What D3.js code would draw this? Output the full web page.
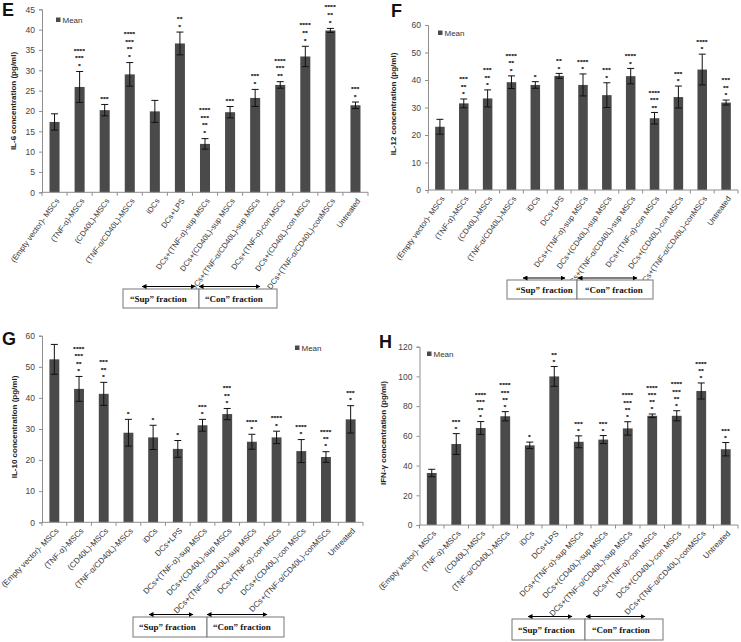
<!DOCTYPE html>
<html><head><meta charset="utf-8">
<script src="https://cdn.jsdelivr.net/npm/d3@7"></script>
<style>
body{margin:0;background:#fff;}
svg{display:block;font-family:"Liberation Sans",Arial,sans-serif;}
</style></head>
<body>
<script>
// ---------- DATA ----------
const categories = ["(Empty vector)- MSCs","(TNF-α)-MSCs","(CD40L)-MSCs","(TNF-α/CD40L)-MSCs","iDCs","DCs+LPS",
  "DCs+(TNF-α)-sup MSCs","DCs+(CD40L)-sup MSCs","DCs+(TNF-α/CD40L)-sup MSCs","DCs+(TNF-α)-con MSCs",
  "DCs+(CD40L)-con MSCs","DCs+(TNF-α/CD40L)-conMSCs","Untreated"];

const il6Mean = [17.3, 25.9, 20.2, 29.0, 19.9, 36.6, 11.9, 19.7, 23.2, 26.4, 33.4, 39.8, 21.4];
const il6Err  = [2.0, 3.8, 1.4, 2.9, 2.7, 2.8, 1.3, 1.4, 2.1, 0.8, 2.5, 0.5, 0.8];
const il6Stars = [[],["****","***","*"],["***"],["****","***","**","*"],[],["**","*"],["****","***","**","*"],
  ["***"],["***","*"],["****","***","**"],["****","**","*"],["****","**","*"],["***","*"]];

const il12Mean = [23.0, 31.5, 33.3, 39.2, 38.2, 41.5, 38.2, 34.5, 41.4, 26.1, 33.8, 43.8, 31.8];
const il12Err  = [2.7, 1.6, 3.1, 2.3, 1.2, 0.9, 4.0, 4.5, 2.8, 2.1, 4.0, 5.6, 0.9];
const il12Stars = [[],["***","**","*"],["***","**","*"],["****","**","*"],["*"],["**","*"],["****","*"],
  ["***","*"],["****","*"],["****","***","**"],["***","*"],["****","*"],["***","**","*"]];

const il10Mean = [52.4, 42.9, 41.3, 28.8, 27.3, 23.6, 31.2, 34.8, 25.9, 27.3, 22.9, 21.0, 33.1];
const il10Err  = [4.8, 4.0, 3.7, 4.3, 3.9, 2.7, 1.9, 1.8, 2.4, 2.0, 3.7, 1.7, 4.4];
const il10Stars = [[],["****","***","**","*"],["***","**","*"],["*"],["*"],["*"],["***","*"],["***","**","*"],
  ["****","*"],["****","*"],["****","*"],["****","**","*"],["***","*"]];

const ifnMean = [35.0, 54.5, 65.3, 73.2, 53.6, 100.0, 56.0, 57.5, 65.0, 73.5, 73.5, 90.2, 51.0];
const ifnErr  = [2.5, 7.0, 4.3, 3.1, 2.2, 6.7, 4.0, 2.7, 4.5, 1.2, 3.4, 5.4, 4.5];
const ifnStars = [[],["***","*"],["****","***","**","*"],["****","***","**","*"],["*"],["**","*"],["***","*"],
  ["***","*"],["****","***","**","*"],["****","***","**","*"],["****","***","**","*"],["****","**","*"],["***","*"]];

const il6Ticks  = [0,5,10,15,20,25,30,35,40,45];
const il12Ticks = [0,10,20,30,40,50,60];
const il10Ticks = [0,10,20,30,40,50,60];
const ifnTicks  = [0,20,40,60,80,100,120];

const legendLabel = "Mean";
const supLabel = "\u201CSup\u201D fraction";
const conLabel = "\u201CCon\u201D fraction";

// ---------- LAYOUT ----------
const W = 741, H = 642;
const svg = d3.select("body").append("svg").attr("width", W).attr("height", H);

const panels = [
  {letter:"E", lx:2, ly:16, title:"IL-6 concentration (pg/ml)", tx:16, ty:101,
   x0:42, x1:368, yTop:9.3, yBot:192.3, max:45, ticks:il6Ticks,
   mean:il6Mean, err:il6Err, stars:il6Stars, starOff:7, starGap:7.8,
   legX:56, legY:20, labAngle:-54, labFont:7.8,
   box:{x0:123,x1:277,y0:289,y1:308,div:199,ay:286.5,a1:[142,195],a2:[199,260],s:130,c:205,by:302}},
  {letter:"F", lx:391, ly:17, title:"IL-12 concentration (pg/ml)", tx:396, ty:104,
   x0:428, x1:738, yTop:25, yBot:190, max:60, ticks:il12Ticks,
   mean:il12Mean, err:il12Err, stars:il12Stars, starOff:6.5, starGap:7.5,
   legX:438, legY:33, labAngle:-54, labFont:7.8,
   box:{x0:507,x1:653,y0:280,y1:299,div:577,ay:278,a1:[523,565],a2:[578,637],s:516,c:585,by:293}},
  {letter:"G", lx:2, ly:345, title:"IL-10 concentration (pg/ml)", tx:17, ty:427,
   x0:42, x1:363, yTop:335.7, yBot:522.3, max:60, ticks:il10Ticks,
   mean:il10Mean, err:il10Err, stars:il10Stars, starOff:7, starGap:7.3,
   legX:295, legY:348, labAngle:-46, labFont:8,
   box:{x0:133,x1:284,y0:617,y1:637,div:207,ay:614.5,a1:[149,193],a2:[207,267],s:139,c:213,by:630}},
  {letter:"H", lx:379, ly:348, title:"IFN-\u03B3 concentration (pg/ml)", tx:386, ty:433,
   x0:419.5, x1:738, yTop:346.7, yBot:525, max:120, ticks:ifnTicks,
   mean:ifnMean, err:ifnErr, stars:ifnStars, starOff:6.3, starGap:7.2,
   legX:427, legY:354, labAngle:-46, labFont:8,
   box:{x0:512,x1:663,y0:619,y1:640,div:585,ay:616.5,a1:[528,572],a2:[586,645],s:518,c:592,by:633}}
];

const defs = svg.append("defs");
defs.append("marker").attr("id","ah").attr("viewBox","0 0 10 10").attr("refX",9).attr("refY",5)
  .attr("markerWidth",5).attr("markerHeight",5).attr("orient","auto-start-reverse")
  .append("path").attr("d","M0,0 L10,5 L0,10 z").attr("fill","#000");

const barColor = "#4a4a4a", axisColor = "#8e8e8e", textColor = "#444";
const starFont = 6;

panels.forEach(p => {
  const g = svg.append("g");
  const x = d3.scaleBand().domain(categories).range([p.x0, p.x1]).paddingInner(0.6).paddingOuter(0.3);
  const y = d3.scaleLinear().domain([0, p.max]).range([p.yBot, p.yTop]);
  const step = x.step();

  // panel letter
  g.append("text").attr("x", p.lx).attr("y", p.ly).attr("font-size", 18).attr("font-weight", "bold")
    .attr("fill", "#111").text(p.letter);

  // y axis
  const ya = g.append("g").attr("transform", `translate(${p.x0},0)`)
    .call(d3.axisLeft(y).tickValues(p.ticks).tickSize(3).tickPadding(4).tickFormat(d3.format("d")));
  ya.select(".domain").attr("stroke", axisColor);
  ya.selectAll(".tick line").attr("stroke", axisColor);
  ya.selectAll("text").attr("font-size", 8.5).attr("fill", textColor).attr("font-family", "Liberation Sans, Arial");

  // y title
  g.append("text").attr("transform", `translate(${p.tx},${p.ty}) rotate(-90)`)
    .attr("text-anchor", "middle").attr("font-size", 8).attr("font-weight", "bold").attr("fill", "#222")
    .text(p.title);

  // bars
  g.selectAll("rect.bar").data(categories).enter().append("rect").attr("class","bar")
    .attr("x", d => x(d)).attr("width", x.bandwidth())
    .attr("y", (d,i) => y(p.mean[i])).attr("height", (d,i) => p.yBot - y(p.mean[i]))
    .attr("fill", barColor);

  // error bars
  const eb = g.selectAll("g.err").data(categories).enter().append("g").attr("class","err");
  const cx = d => x(d) + x.bandwidth()/2;
  eb.append("line").attr("x1", cx).attr("x2", cx)
    .attr("y1", (d,i) => y(p.mean[i] - p.err[i])).attr("y2", (d,i) => y(p.mean[i] + p.err[i]))
    .attr("stroke", "#111").attr("stroke-width", 1);
  [1,-1].forEach(s => {
    eb.append("line").attr("x1", d => cx(d) - 3.5).attr("x2", d => cx(d) + 3.5)
      .attr("y1", (d,i) => y(p.mean[i] + s*p.err[i])).attr("y2", (d,i) => y(p.mean[i] + s*p.err[i]))
      .attr("stroke", "#111").attr("stroke-width", 1);
  });

  // stars (one text element per row, small font so rows do not collide)
  categories.forEach((c, i) => {
    const rows = p.stars[i];
    const top = y(p.mean[i] + p.err[i]);
    const n = rows.length;
    rows.forEach((r, k) => {
      const level = n - 1 - k;
      const cyy = top - p.starOff - level * p.starGap;
      g.append("text").attr("x", cx(c)).attr("y", cyy + 3.6).attr("text-anchor", "middle")
        .attr("font-size", starFont).attr("font-weight", "bold").attr("letter-spacing", 0.5)
        .attr("fill", "#222").attr("stroke", "#222").attr("stroke-width", 0.25).text(r);
    });
  });

  // x axis
  const xa = g.append("g").attr("transform", `translate(0,${p.yBot})`)
    .call(d3.axisBottom(x).tickSize(0).tickPadding(0));
  xa.select(".domain").attr("stroke", axisColor).attr("d", `M${p.x0},0H${p.x1}`);
  xa.selectAll(".tick text")
    .attr("transform", `translate(3,7) rotate(${p.labAngle})`).attr("text-anchor", "end")
    .attr("dy", "0.35em").attr("y", 0).attr("x", 0)
    .attr("font-size", p.labFont).attr("fill", "#333").attr("font-family", "Liberation Sans, Arial");
  // category boundary ticks
  const bounds = categories.map(c => x(c) - step * 0.3).concat([x(categories[categories.length-1]) + x.bandwidth() + step*0.3]);
  g.selectAll("line.bt").data(bounds).enter().append("line")
    .attr("x1", d => d).attr("x2", d => d).attr("y1", p.yBot).attr("y2", p.yBot + 3.5)
    .attr("stroke", axisColor);

  // legend
  g.append("rect").attr("x", p.legX).attr("y", p.legY - 2.5).attr("width", 4.5).attr("height", 4.5).attr("fill", barColor);
  g.append("text").attr("x", p.legX + 6.5).attr("y", p.legY + 2.8).attr("font-size", 8).attr("fill", "#333").text(legendLabel);

  // fraction box
  const b = p.box;
  g.append("rect").attr("x", b.x0).attr("y", b.y0).attr("width", b.div - b.x0).attr("height", b.y1 - b.y0)
    .attr("fill", "#fff").attr("stroke", "#777");
  g.append("rect").attr("x", b.div).attr("y", b.y0).attr("width", b.x1 - b.div).attr("height", b.y1 - b.y0)
    .attr("fill", "#fff").attr("stroke", "#777");
  [b.a1, b.a2].forEach(a => {
    g.append("line").attr("x1", a[0]).attr("x2", a[1]).attr("y1", b.ay).attr("y2", b.ay)
      .attr("stroke", "#000").attr("stroke-width", 1)
      .attr("marker-start", "url(#ah)").attr("marker-end", "url(#ah)");
  });
  g.append("text").attr("x", b.s).attr("y", b.by).attr("font-family", "Liberation Serif, Times New Roman, serif")
    .attr("font-weight", "bold").attr("font-size", 9).attr("fill", "#111").text(supLabel);
  g.append("text").attr("x", b.c).attr("y", b.by).attr("font-family", "Liberation Serif, Times New Roman, serif")
    .attr("font-weight", "bold").attr("font-size", 9).attr("fill", "#111").text(conLabel);
});
</script>
</body></html>
